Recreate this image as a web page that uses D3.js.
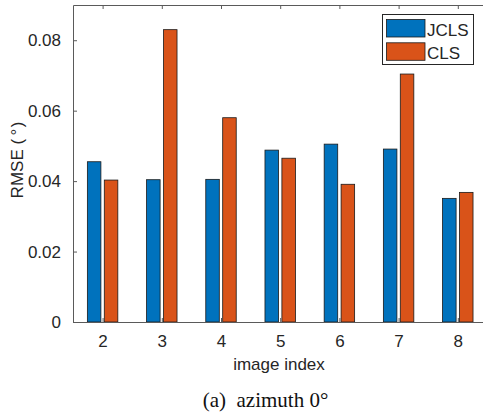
<!DOCTYPE html>
<html>
  <head>
    <meta charset="UTF-8">
    <title>RMSE azimuth 0</title>
    <script src="https://d3js.org/d3.v7.min.js"></script>
    <style>
      body { margin: 0; background: #fff; }
      text { font-family: "Liberation Sans", Arial, sans-serif; fill: #262626; }
      .caption { font-family: "Liberation Serif", "Times New Roman", serif; fill: #111; white-space: pre; }
    </style>
  </head>
  <body>
    <script>

const images = [2, 3, 4, 5, 6, 7, 8];
const jcls = [0.0455, 0.0404, 0.0405, 0.0488, 0.0505, 0.0491, 0.0351];
const cls = [0.0403, 0.0830, 0.0580, 0.0465, 0.0391, 0.0704, 0.0368];
const yTicks = [0, 0.02, 0.04, 0.06, 0.08];
const seriesNames = ["JCLS", "CLS"];
const colors = ["#0072BD", "#D95319"];

const svgWidth = 483;
const svgHeight = 419;

const plot = {left: 73, top: 5, right: 487.4, bottom: 322};

const svg = d3.select("body")
  .append("svg")
  .attr("width", svgWidth)
  .attr("height", svgHeight);

const xScale = d3.scaleLinear()
  .domain([1.5, 8.5])
  .range([plot.left, plot.right]);

const yScale = d3.scaleLinear()
  .domain([0, 0.09])
  .range([plot.bottom, plot.top]);

const unit = xScale(1) - xScale(0);
const barW = 0.2286 * unit;
const offsets = [-0.1429, 0.1429];

// bars
const series = [jcls, cls];
series.forEach((vals, s) => {
  svg.append("g")
    .selectAll("rect")
    .data(images.map((im, i) => ({im: im, v: vals[i]})))
    .enter()
    .append("rect")
    .attr("x", d => xScale(d.im + offsets[s]) - barW / 2)
    .attr("y", d => yScale(d.v))
    .attr("width", barW)
    .attr("height", d => yScale(0) - yScale(d.v))
    .attr("fill", colors[s])
    .attr("stroke", "#1a1a1a")
    .attr("stroke-width", 0.8);
});

// axes
const tickLen = 4;
const axisColor = "#5a5a5a";

const xAxis = d3.axisBottom(xScale).tickValues(images).tickSizeInner(-tickLen).tickSizeOuter(0).tickPadding(13)
  .tickFormat(d3.format("d"));
const gx = svg.append("g")
  .attr("transform", "translate(0," + plot.bottom + ")")
  .call(xAxis);
gx.selectAll("text").style("font-size", "17px");

const xTop = d3.axisTop(xScale).tickValues(images).tickSizeInner(-tickLen).tickSizeOuter(0).tickFormat("");
svg.append("g")
  .attr("transform", "translate(0," + plot.top + ")")
  .call(xTop);

const yAxis = d3.axisLeft(yScale).tickValues(yTicks).tickSizeInner(-tickLen).tickSizeOuter(0).tickPadding(12)
  .tickFormat(d => d === 0 ? "0" : d3.format(".2f")(d));
const gy = svg.append("g")
  .attr("transform", "translate(" + plot.left + ",0)")
  .call(yAxis);
gy.selectAll("text").style("font-size", "17px");

const yRight = d3.axisRight(yScale).tickValues(yTicks).tickSizeInner(-tickLen).tickSizeOuter(0).tickFormat("");
svg.append("g")
  .attr("transform", "translate(" + plot.right + ",0)")
  .call(yRight);

svg.selectAll(".domain, .tick line").attr("stroke", axisColor);
svg.selectAll(".tick text").attr("fill", "#262626");

// axis labels
svg.append("text")
  .attr("x", 279)
  .attr("y", 369.5)
  .attr("text-anchor", "middle")
  .style("font-size", "17px")
  .text("image index");

svg.append("text")
  .attr("transform", "translate(23.3,160) rotate(-90)")
  .attr("text-anchor", "middle")
  .style("font-size", "17px")
  .style("white-space", "pre")
  .text("RMSE (\u2009°\u200a)");

svg.append("text")
  .attr("class", "caption")
  .attr("x", 265.5)
  .attr("y", 407)
  .attr("text-anchor", "middle")
  .style("font-size", "21px")
  .text("(a)  azimuth 0°");

// legend
const legend = svg.append("g");
legend.append("rect")
  .attr("x", 382.5).attr("y", 14.5)
  .attr("width", 91).attr("height", 50)
  .attr("fill", "#fff").attr("stroke", "#262626").attr("stroke-width", 1);

seriesNames.forEach((name, i) => {
  legend.append("rect")
    .attr("x", 386.5).attr("y", 19.5 + i * 23.3)
    .attr("width", 38.5).attr("height", 17.5)
    .attr("fill", colors[i]).attr("stroke", "#1a1a1a").attr("stroke-width", 0.8);
  legend.append("text")
    .attr("x", 427)
    .attr("y", 35.5 + i * 23.3)
    .style("font-size", "17px")
    .text(name);
});

    </script>
  </body>
</html>
